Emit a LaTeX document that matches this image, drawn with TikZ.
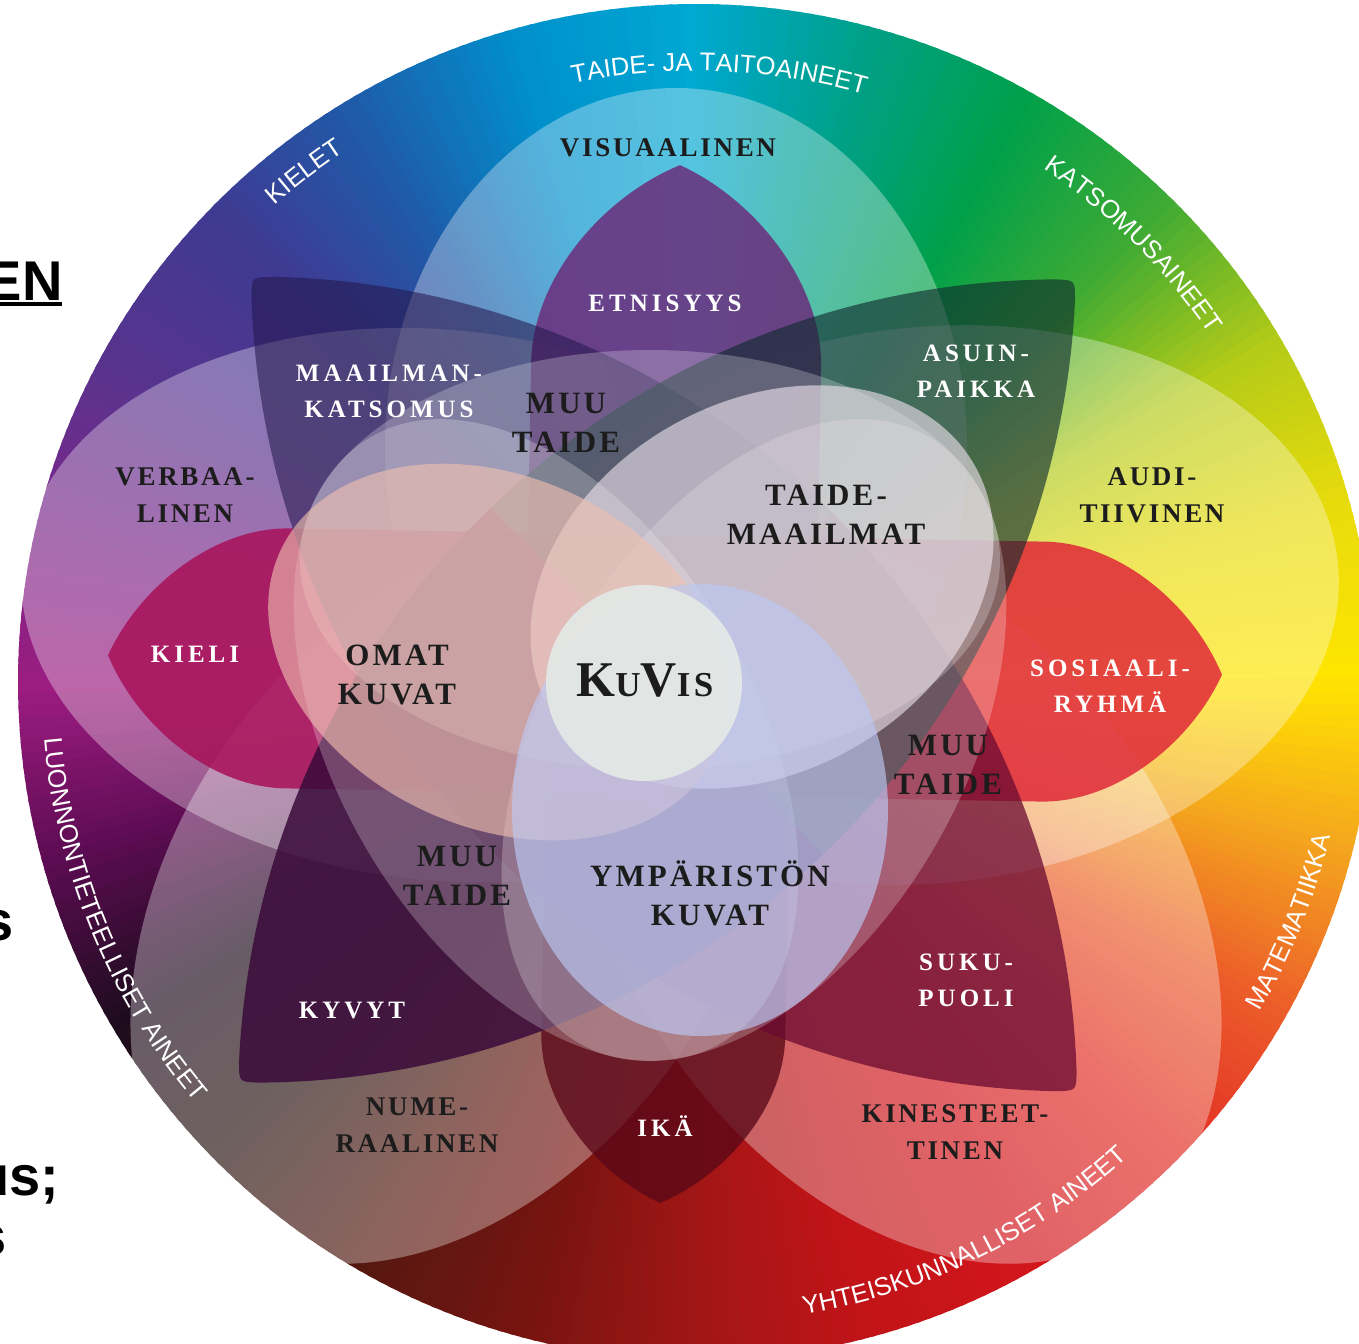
\documentclass[tikz,border=0pt]{standalone}
\usepackage{fontspec}
\usetikzlibrary{decorations.text}
\newfontfamily\labfont[LetterSpace=10]{Liberation Serif}
\newfontfamily\petfont[LetterSpace=16]{Liberation Serif}
\newfontfamily\rimfont{Liberation Sans}

\definecolor{rim0}{HTML}{FFE500}
\definecolor{rim1}{HTML}{E8DB0C}
\definecolor{rim2}{HTML}{B4CB18}
\definecolor{rim3}{HTML}{3FAA34}
\definecolor{rim4}{HTML}{00A04A}
\definecolor{rim5}{HTML}{00A088}
\definecolor{rim6}{HTML}{00A8D2}
\definecolor{rim7}{HTML}{0090CC}
\definecolor{rim8}{HTML}{1E5CAA}
\definecolor{rim9}{HTML}{3E3A92}
\definecolor{rim10}{HTML}{56348E}
\definecolor{rim11}{HTML}{78288A}
\definecolor{rim12}{HTML}{9C1C80}
\definecolor{rim13}{HTML}{5C0C52}
\definecolor{rim14}{HTML}{1E0C1E}
\definecolor{rim15}{HTML}{2A1410}
\definecolor{rim16}{HTML}{561810}
\definecolor{rim17}{HTML}{781410}
\definecolor{rim18}{HTML}{A21616}
\definecolor{rim19}{HTML}{C21418}
\definecolor{rim20}{HTML}{D2161C}
\definecolor{rim21}{HTML}{E22C24}
\definecolor{rim22}{HTML}{EC5C2A}
\definecolor{rim23}{HTML}{F4A41E}
\definecolor{etnisyys}{HTML}{6B2D7B}
\definecolor{asuin}{HTML}{0E2A2E}
\definecolor{sosiaali}{HTML}{E02838}
\definecolor{suku}{HTML}{6A0A30}
\definecolor{ika}{HTML}{5A0818}
\definecolor{kyvyt}{HTML}{3A0A3A}
\definecolor{kieli}{HTML}{A81058}
\definecolor{maailman}{HTML}{24164C}
\definecolor{taide}{HTML}{EEE2EC}
\definecolor{omat}{HTML}{F0C0B0}
\definecolor{ymparisto}{HTML}{BCC8F4}
\definecolor{core}{HTML}{E4E9E6}
\definecolor{ink}{HTML}{1C1C1C}

\begin{document}
\begin{tikzpicture}[x = 1pt, y = -1pt,
	learn/.style = {fill = white, fill opacity = 0.33},
	muu/.style = {fill = white, fill opacity = 0.24},
	field/.style = {fill opacity = 0.62},
	lab/.style = {font = \labfont\bfseries\fontsize{27}{37}\selectfont, text = ink, align = center},
	mid/.style = {font = \labfont\bfseries\fontsize{31}{39}\selectfont, text = ink, align = center},
	pet/.style = {font = \petfont\bfseries\fontsize{25}{36}\selectfont, text = white, align = center},
	cut/.style = {font = \rimfont\bfseries\fontsize{56}{56}\selectfont, anchor = base east},
	rim/.style = {decorate, decoration = {text along path, text align = center, text color = white, text = {|\rimfont\fontsize{25.5}{25.5}\selectfont|#1}}}]
	\useasboundingbox (0,0) rectangle (1359,1343);
	\coordinate (c) at (696,682);
	\coordinate (f) at (650,680);

	\foreach \p in {0,...,359}{
		\pgfmathtruncatemacro\i{\p/15}
		\pgfmathtruncatemacro\j{mod(\i+1,24)}
		\pgfmathtruncatemacro\w{100-100*(\p-15*\i)/15}
		\fill[rim\i!\w!rim\j] (c) -- ++(-\p:678) arc [start angle = -\p, end angle = -\p-1.4, radius = 678] -- cycle;
	}

	\fill[learn] (676,448) ellipse [x radius = 291, y radius = 360];
	\fill[learn, rotate around = {6:(930,605)}] (930,605) ellipse [x radius = 410, y radius = 278];
	\fill[learn, rotate around = {-6:(440,605)}] (440,605) ellipse [x radius = 420, y radius = 275];
	\fill[learn, rotate around = {-55:(900,900)}] (900,900) ellipse [x radius = 400, y radius = 275];
	\fill[learn, rotate around = {55:(452,900)}] (452,900) ellipse [x radius = 400, y radius = 275];

	\foreach \mx/\my/\a/\l/\r/\col/\o in {
		670/684/-88.9/519/145/etnisyys/0.85,
		670/684/91.1/519/122/ika/0.78,
		665/665/181/557/130/kieli/0.85,
		665/665/1/557/130/sosiaali/0.85}{
		\begin{scope}[shift = {(\mx,\my)}, rotate = -\a]
			\fill[\col, fill opacity = \o] (\l,0) .. controls ({\l-0.23*\r},{0.53*\r}) and ({\l-0.8*\r},\r) .. ({\l-1.38*\r},\r) -- (0,\r) -- (0,-\r) -- ({\l-1.38*\r},-\r) .. controls ({\l-0.8*\r},-\r) and ({\l-0.23*\r},{-0.53*\r}) .. cycle;
		\end{scope}
	}
	\foreach \mx/\my/\a/\col/\o in {
		664/684/224.6/maailman/0.56,
		664/684/44.6/suku/0.75,
		657/681/-43.8/asuin/0.62,
		657/681/136.2/kyvyt/0.85}{
		\begin{scope}[shift = {(\mx,\my)}, rotate = -\a]
			\fill[\col, fill opacity = \o] (566.2,13.6) arc [start angle = 46.4, end angle = 90, radius = 821] -- (0,-240) arc [start angle = -90, end angle = -46.4, radius = 821] .. controls (579,0) .. cycle;
		\end{scope}
	}

	\fill[muu] (650,560) ellipse [x radius = 350, y radius = 210];
	\fill[muu, rotate around = {120:(f)}] (650,560) ellipse [x radius = 350, y radius = 210];
	\fill[muu, rotate around = {240:(f)}] (650,560) ellipse [x radius = 350, y radius = 210];

	\fill[field, fill = taide, rotate around = {30:(762,587)}] (762,587) ellipse [x radius = 245, y radius = 185];
	\fill[field, fill = omat, rotate around = {-25:(498,652)}] (498,652) ellipse [x radius = 240, y radius = 175];
	\fill[field, fill = ymparisto, fill opacity = 0.66] (700,810) ellipse [x radius = 188, y radius = 226];
	\fill[core, fill opacity = 0.92] (644,683) circle [radius = 98];

	\path[rim = {TAIDE- JA TAITOAINEET}] ([shift = {(-137.8:611)}]c) arc [start angle = -137.8, end angle = -37.8, radius = 611];
	\path[rim = {KIELET}] ([shift = {(-170:636)}]c) arc [start angle = -170, end angle = -85, radius = 636];
	\path[rim = {KATSOMUSAINEET}] ([shift = {(-95:620)}]c) arc [start angle = -95, end angle = 5, radius = 620];
	\path[rim = {MATEMATIIKKA}] ([shift = {(62:653)}]c) arc [start angle = 62, end angle = -18, radius = 653];
	\path[rim = {YHTEISKUNNALLISET AINEET}] ([shift = {(110:642)}]c) arc [start angle = 110, end angle = 18, radius = 642];
	\path[rim = {LUONNONTIETEELLISET AINEET}] ([shift = {(205:654)}]c) arc [start angle = 205, end angle = 110, radius = 654];

	\node[lab] (visuaalinen) at (668,148) {VISUAALINEN};
	\node[pet] (etnisyys) at (665,303) {ETNISYYS};
	\node[pet] (maailman) at (389,391) {MAAILMAN-\\KATSOMUS};
	\node[mid] (muu1) at (566,423) {MUU\\TAIDE};
	\node[pet] (asuin) at (976,371) {ASUIN-\\PAIKKA};
	\node[lab] (verbaalinen) at (185,495) {VERBAA-\\LINEN};
	\node[mid] (taidemaailmat) at (826,515) {TAIDE-\\MAAILMAT};
	\node[lab] (auditiivinen) at (1152,495) {AUDI-\\TIIVINEN};
	\node[pet] (kieli) at (195,654) {KIELI};
	\node[mid] (omat) at (397,675) {OMAT\\KUVAT};
	\node[text = ink, font = \labfont\bfseries] (kuvis) at (645,681) {\fontsize{50}{50}\selectfont K\fontsize{35}{35}\selectfont U\fontsize{50}{50}\selectfont V\fontsize{35}{35}\selectfont IS};
	\node[pet] (sosiaali) at (1110,686) {SOSIAALI-\\RYHMÄ};
	\node[mid] (muu2) at (948,765) {MUU\\TAIDE};
	\node[mid] (muu3) at (457,876) {MUU\\TAIDE};
	\node[mid] (ymparisto) at (710,893) {YMPÄRISTÖN\\KUVAT};
	\node[pet] (sukupuoli) at (966,980) {SUKU-\\PUOLI};
	\node[pet] (kyvyt) at (352,1010) {KYVYT};
	\node[lab] (numeraalinen) at (417,1125) {NUME-\\RAALINEN};
	\node[pet] (ika) at (665,1126) {IKÄ};
	\node[lab] (kinesteettinen) at (955,1132) {KINESTEET-\\TINEN};

	\node[cut] (en) at (66,300) {\vtop{\hbox{EN}\kern2pt\hrule height 4pt}};
	\node[cut] (s1) at (17,940) {s};
	\node[cut] (us) at (63,1195) {us;};
	\node[cut] (s2) at (10,1255) {s};
\end{tikzpicture}
\end{document}
